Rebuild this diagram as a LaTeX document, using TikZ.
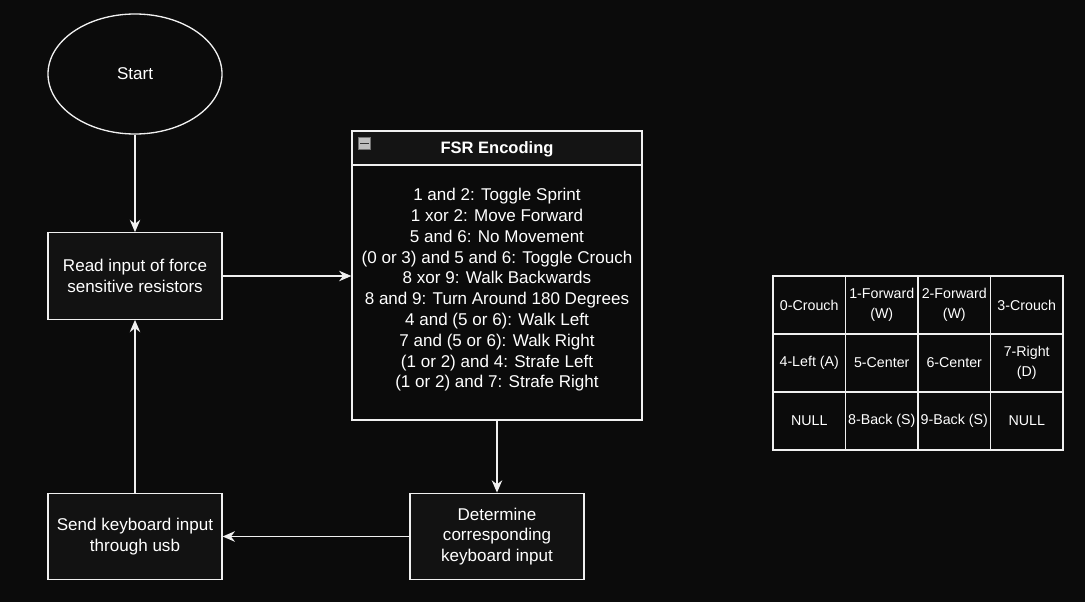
\documentclass[tikz,border=0pt]{standalone}
\usepackage{fontspec}
\setmainfont{Liberation Sans}
\usetikzlibrary{arrows.meta,positioning,shapes.geometric,backgrounds}
\definecolor{fsr@bg}{RGB}{11,11,11}
\definecolor{fsr@box}{RGB}{18,18,18}
\definecolor{fsr@head}{RGB}{20,20,20}
\definecolor{fsr@line}{RGB}{240,240,240}
\definecolor{fsr@icon}{RGB}{190,190,190}
\tikzset{
  flow/.style={
    font=\fontsize{9.7}{11.85}\selectfont,
    >={Stealth[length=7pt,width=6pt]},
    line width=0.75pt,
    text=white
  },
  startnode/.style={               % start terminal
    ellipse, draw=fsr@line, fill=fsr@bg,
    inner sep=0pt,
    minimum width=3.48cm, minimum height=2.40cm
  },
  stepbox/.style={                 % process step
    draw=fsr@line, fill=fsr@box,
    inner sep=2pt, align=center,
    minimum width=3.48cm, minimum height=1.73cm
  },
  fsrhead/.style={                 % container title bar
    draw=fsr@line, fill=fsr@head,
    inner sep=0pt, align=center, text depth=0pt,
    font=\fontsize{9.4}{11.85}\selectfont\bfseries,
    minimum width=5.80cm, minimum height=0.68cm
  },
  fsrbody/.style={                 % container body
    draw=fsr@line, fill=fsr@bg,
    inner sep=0pt, align=center, text depth=5pt,
    minimum width=5.80cm, minimum height=5.10cm
  },
  fsricon/.style={
    draw=fsr@icon!60!black, fill=fsr@icon, line width=0.4pt,
    inner sep=0pt, minimum size=0.24cm
  },
  cellbox/.style={                 % sensor table cell
    draw=fsr@line, fill=fsr@bg,
    inner sep=0.5pt, align=center,
    font=\fontsize{8.1}{11.4}\selectfont,
    minimum width=1.45cm, minimum height=1.16cm
  },
  flowarrow/.style={->, draw=fsr@line, line width=0.75pt}
}

\begin{document}
\begin{tikzpicture}[flow]
\fill[fsr@bg] (0,0) rectangle (21.70,-12.04);
\useasboundingbox (0,0) rectangle (21.70,-12.04);

% Left column
\node[startnode] (start) at (2.70,-1.48) {Start};
\node[stepbox] (read) at (2.70,-5.52) {Read input of force\\sensitive resistors};
\node[stepbox] (send) at (2.70,-10.73) {Send keyboard input\\through usb};

% Encoding container
\node[fsrhead] (head) at (9.94,-2.96) {FSR Encoding};
\node[fsrbody] (fsr) at (9.94,-5.85) {1 and 2: Toggle Sprint\\
  1 xor 2: Move Forward\\
  5 and 6: No Movement\\
  (0 or 3) and 5 and 6: Toggle Crouch\\
  8 xor 9: Walk Backwards\\
  8 and 9: Turn Around 180 Degrees\\
  4 and (5 or 6): Walk Left\\
  7 and (5 or 6): Walk Right\\
  (1 or 2) and 4: Strafe Left\\
  (1 or 2) and 7: Strafe Right};
\node[fsricon] (icon) at (7.29,-2.87) {};
\draw[black!80, line width=0.9pt] ([xshift=1.2pt]icon.west) -- ([xshift=-1.2pt]icon.east);

\node[stepbox] (det) at (9.94,-10.73) {Determine\\corresponding\\keyboard input};

% Sensor layout table
\foreach \cell [count=\i from 0] in {0-Crouch, {1-Forward\\(W)}, {2-Forward\\(W)}, 3-Crouch,
    4-Left (A), 5-Center, 6-Center, {7-Right\\(D)},
    NULL, 8-Back (S), 9-Back (S), NULL} {
  \pgfmathtruncatemacro{\col}{mod(\i,4)}
  \pgfmathtruncatemacro{\row}{div(\i,4)}
  \node[cellbox] (c\i) at ({16.185+1.45*\col},{-6.10-1.16*\row}) {\cell};
}

% Connectors
\draw[flowarrow] (start) -- (read);
\draw[flowarrow] (read.east) -- (read.east -| fsr.west);
\draw[flowarrow] (fsr) -- (det);
\draw[flowarrow] (det) -- (send);
\draw[flowarrow] (send) -- (read);

\end{tikzpicture}
\end{document}
